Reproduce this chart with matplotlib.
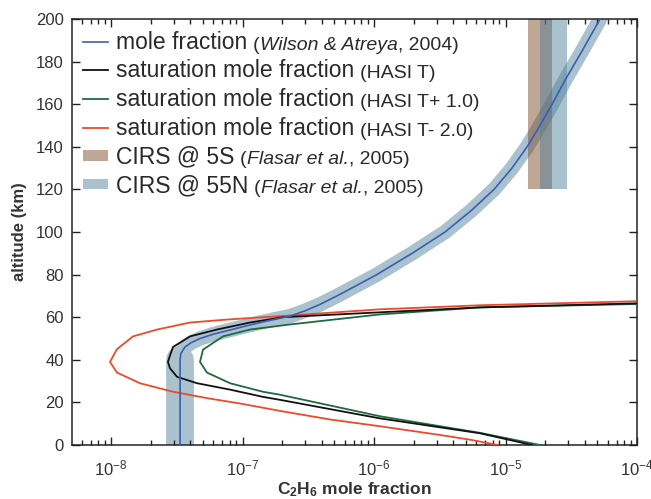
import matplotlib
matplotlib.use('Agg')
import matplotlib.pyplot as plt
from matplotlib.ticker import LogLocator, NullFormatter

plt.rcParams['font.family'] = ['Liberation Sans', 'DejaVu Sans']
plt.rcParams['mathtext.fontset'] = 'custom'
plt.rcParams['mathtext.rm'] = 'Liberation Sans'
plt.rcParams['mathtext.it'] = 'Liberation Sans:italic'
plt.rcParams['mathtext.bf'] = 'Liberation Sans:bold'

# ---------------- data ----------------
# Wilson & Atreya (2004) mole fraction profile
wa_alt = [0, 40, 43, 46, 48, 50, 52, 54, 56, 58, 60.5, 63, 66, 70, 75, 80, 90, 100,
          110, 120, 130, 140, 150, 160, 172, 185, 200]
wa_x = [3.35e-8, 3.35e-8, 3.40e-8, 3.65e-8, 4.06e-8, 4.75e-8, 5.97e-8, 8.04e-8, 1.08e-7,
        1.48e-7, 2.30e-7, 2.99e-7, 3.88e-7, 5.23e-7, 7.43e-7, 1.05e-6, 1.95e-6, 3.47e-6,
        5.47e-6, 8.18e-6, 1.12e-5, 1.46e-5, 1.83e-5, 2.26e-5, 2.88e-5, 3.82e-5, 5.24e-5]

# saturation mole fraction, HASI T
sat_alt = [0, 5.5, 12.5, 21.2, 22.6, 26, 29, 32, 36, 39, 42, 46, 51, 54.2, 57.5, 60,
           62.3, 64.6, 66.5, 67.5]
sat_x = [1.59e-5, 6.40e-6, 1.11e-6, 1.93e-7, 1.43e-7, 8.04e-8, 4.51e-8, 3.18e-8, 2.81e-8,
         2.71e-8, 2.81e-8, 2.96e-8, 3.99e-8, 6.39e-8, 1.14e-7, 2.03e-7, 1.11e-6, 6.40e-6,
         1.0e-4, 4.3e-4]

# saturation mole fraction, HASI T + 1.0
satp_alt = [0, 5.7, 13.5, 23.6, 25, 29, 34, 39, 44.8, 51, 54.2, 56.6, 61.3, 64.6, 66.2, 67]
satp_x = [1.83e-5, 6.40e-6, 1.11e-6, 1.93e-7, 1.43e-7, 8.04e-8, 5.37e-8, 4.75e-8, 5.01e-8,
          7.11e-8, 1.14e-7, 2.30e-7, 1.11e-6, 6.40e-6, 1.0e-4, 4.3e-4]

# saturation mole fraction, HASI T - 2.0
satm_alt = [0, 2.5, 4.7, 8.8, 12, 16, 19.5, 22, 25, 29, 34, 39, 45, 51, 54.2, 57.5, 59,
            60.4, 63.7, 65.6, 67.5, 68.3]
satm_x = [8.77e-6, 5.37e-6, 3.18e-6, 1.11e-6, 4.62e-7, 1.93e-7, 9.57e-8, 5.37e-8, 2.96e-8,
          1.66e-8, 1.11e-8, 9.82e-9, 1.11e-8, 1.47e-8, 2.24e-8, 3.99e-8, 8.04e-8, 1.83e-7,
          1.11e-6, 6.40e-6, 1.0e-4, 4.3e-4]

# CIRS ranges (x range, altitude range)
cirs5s_x = [1.48e-5, 2.26e-5]
cirs55n_x = [1.83e-5, 2.94e-5]
cirs_alt = [120, 200]

xticks = [1e-8, 1e-7, 1e-6, 1e-5, 1e-4]
yticks = list(range(0, 201, 20))

# ---------------- colours ----------------
c_blue = '#3a5fb5'
c_black = '#111111'
c_green = '#1f6b40'
c_red = '#ee4a2a'
c_band = '#4f7f9a'
c_band_solid = '#aac1ce'
c_brown = '#80502f'

fig = plt.figure(figsize=(6.51, 4.99), dpi=100)
ax = fig.add_axes([72 / 651, 54 / 499, 565 / 651, 426 / 499])

# shaded band around model profile: wide in the constant lower part, narrower above
ax.plot(wa_x[:2], wa_alt[:2], color=c_band_solid, lw=20, solid_capstyle='round', zorder=1)
ax.plot(wa_x[1:], wa_alt[1:], color=c_band_solid, lw=10.5, solid_capstyle='round',
        solid_joinstyle='round', zorder=1)

p5s = ax.fill_betweenx(cirs_alt, cirs5s_x[0], cirs5s_x[1], color=c_brown, alpha=0.5,
                       lw=0, zorder=2)
p55n = ax.fill_betweenx(cirs_alt, cirs55n_x[0], cirs55n_x[1], color=c_band, alpha=0.48,
                        lw=0, zorder=2)

l_r, = ax.plot(satm_x, satm_alt, color=c_red, lw=1.3, zorder=3)
l_g, = ax.plot(satp_x, satp_alt, color=c_green, lw=1.3, zorder=3)
l_b, = ax.plot(sat_x, sat_alt, color=c_black, lw=1.3, zorder=3)
l_wa, = ax.plot(wa_x, wa_alt, color=c_blue, lw=1.2, zorder=4)

ax.set_xscale('log')
ax.set_xlim(5.05e-9, 1e-4)
ax.set_ylim(0, 200)
ax.set_xticks(xticks)
ax.xaxis.set_minor_locator(LogLocator(base=10, subs=range(2, 10), numticks=20))
ax.xaxis.set_minor_formatter(NullFormatter())
ax.set_yticks(yticks)

ax.tick_params(which='both', direction='in', top=True, right=True, colors='#222222',
               labelcolor='#333333', labelsize=12)
ax.tick_params(which='major', length=6, width=1)
ax.tick_params(which='minor', length=3.5, width=1)
ax.tick_params(axis='x', which='major', pad=10)
ax.tick_params(axis='y', which='major', pad=6)
for s in ax.spines.values():
    s.set_color('#222222')
    s.set_linewidth(1.1)

ax.set_ylabel('altitude (km)', fontsize=12, fontweight='bold', color='#333333', labelpad=6)
ax.set_xlabel(r'$\mathbf{C_2H_6}$ mole fraction', fontsize=12.5, fontweight='bold',
              color='#333333', labelpad=1)

mains = ['mole fraction', 'saturation mole fraction', 'saturation mole fraction',
         'saturation mole fraction', 'CIRS @ 5S', 'CIRS @ 55N']
parens = [[('(', 'normal'), ('Wilson & Atreya', 'italic'), (', 2004)', 'normal')],
          [('(HASI T)', 'normal')],
          [('(HASI T+ 1.0)', 'normal')],
          [('(HASI T- 2.0)', 'normal')],
          [('(', 'normal'), ('Flasar et al.', 'italic'), (', 2005)', 'normal')],
          [('(', 'normal'), ('Flasar et al.', 'italic'), (', 2005)', 'normal')]]

leg = ax.legend([l_wa, l_b, l_g, l_r, p5s, p55n], mains, loc='upper left',
                bbox_to_anchor=(0.0195, 0.973), frameon=False, fontsize=16.5,
                handlelength=1.1, handleheight=0.35, handletextpad=0.35,
                labelspacing=0.25, borderpad=0, borderaxespad=0)
for t in leg.get_texts():
    t.set_color('#2a2a2a')

fig.canvas.draw()
for txt, parts in zip(leg.get_texts(), parens):
    prev = txt
    first = True
    for s, style in parts:
        a = ax.annotate(s, xy=(1, 0), xycoords=prev, xytext=(4 if first else 0, 0),
                        textcoords='offset points', fontsize=14, fontstyle=style,
                        va='bottom', ha='left', color='#2a2a2a', zorder=7,
                        annotation_clip=False)
        prev = a
        first = False

fig.savefig('out.png', dpi=100, facecolor='white')
